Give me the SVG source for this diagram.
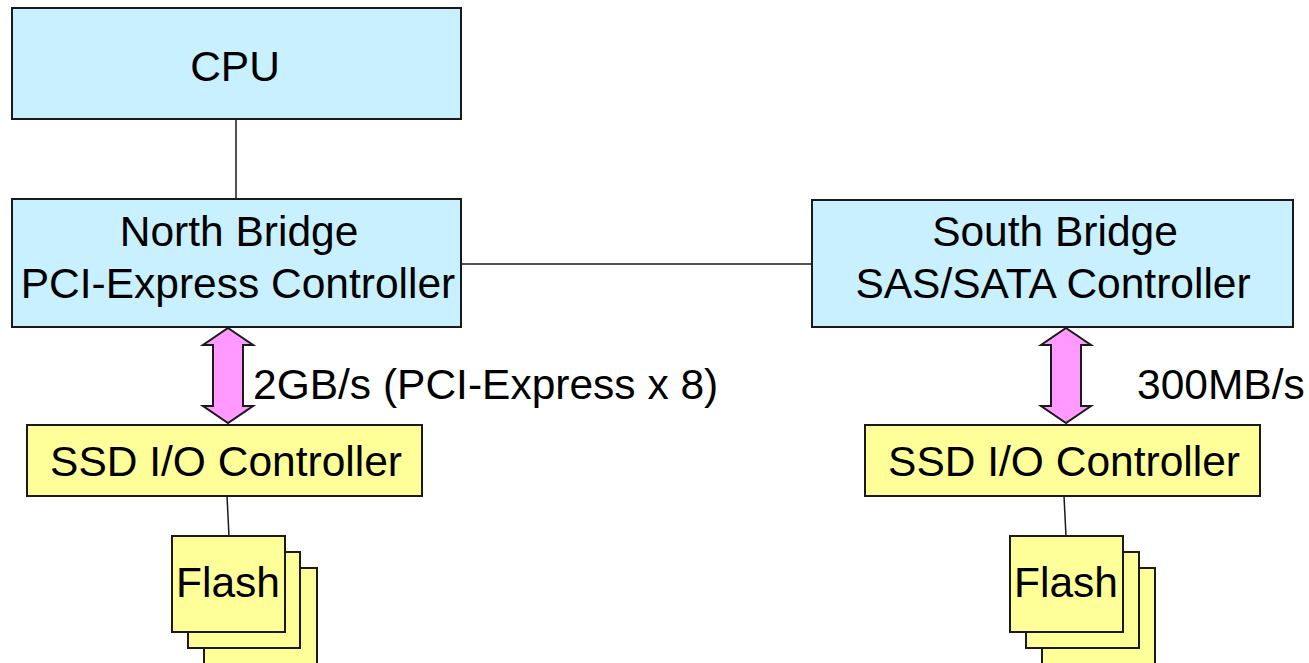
<svg xmlns="http://www.w3.org/2000/svg" width="1309" height="663" viewBox="0 0 1309 663">
<style>
.box{stroke:#1a1a1a;stroke-width:2}
.blue{fill:#C8F0FF}
.yellow{fill:#FFFF99}
.arrow{fill:#FF99FF;stroke:#1a1a1a;stroke-width:2;stroke-linejoin:miter}
.t{font-family:"Liberation Sans",Arial,sans-serif;font-size:42.5px;fill:#000}
.m{text-anchor:middle}
.line{stroke:#1a1a1a;stroke-width:1.5;fill:none}
</style>
<rect width="1309" height="663" fill="#fff"/>
<g id="connectors">
<line class="line" x1="236" y1="119" x2="236" y2="199"/>
<line class="line" x1="461" y1="264" x2="812" y2="264"/>
<line class="line" x1="227" y1="496" x2="229" y2="536"/>
<line class="line" x1="1064" y1="496" x2="1066" y2="536"/>
<path class="arrow" d="M228,328 L253,345 L243,345 L243,406 L253,406 L228,423 L203,406 L213,406 L213,345 L203,345 Z"/>
<path class="arrow" d="M1066,328 L1091,345 L1081,345 L1081,406 L1091,406 L1066,423 L1041,406 L1051,406 L1051,345 L1041,345 Z"/>
<text class="t" x="253" y="399">2GB/s (PCI-Express x 8)</text>
<text class="t" x="1137" y="399">300MB/s</text>
</g>
<g id="cpu">
<rect class="box blue" x="12" y="8" width="449" height="111"/>
<text class="t m" x="235" y="81">CPU</text>
</g>
<g id="north-bridge">
<rect class="box blue" x="12" y="199" width="449" height="128"/>
<text class="t m" x="239" y="246">North Bridge</text>
<text class="t m" x="238" y="298">PCI-Express Controller</text>
</g>
<g id="south-bridge">
<rect class="box blue" x="812" y="200" width="481" height="127"/>
<text class="t m" x="1055" y="246">South Bridge</text>
<text class="t m" x="1053" y="298">SAS/SATA Controller</text>
</g>
<g id="ssd-left">
<rect class="box yellow" x="27" y="425" width="395" height="71"/>
<text class="t m" x="226" y="476">SSD I/O Controller</text>
</g>
<g id="ssd-right">
<rect class="box yellow" x="865" y="425" width="395" height="71"/>
<text class="t m" x="1064" y="476">SSD I/O Controller</text>
</g>
<g id="flash-left">
<rect class="box yellow" x="204" y="568" width="113" height="110"/>
<rect class="box yellow" x="188" y="552" width="112" height="96"/>
<rect class="box yellow" x="172" y="536" width="113" height="96"/>
<text class="t m" x="228" y="597">Flash</text>
</g>
<g id="flash-right">
<rect class="box yellow" x="1042" y="568" width="113" height="110"/>
<rect class="box yellow" x="1026" y="552" width="113" height="96"/>
<rect class="box yellow" x="1010" y="536" width="113" height="96"/>
<text class="t m" x="1066" y="597">Flash</text>
</g>
</svg>
